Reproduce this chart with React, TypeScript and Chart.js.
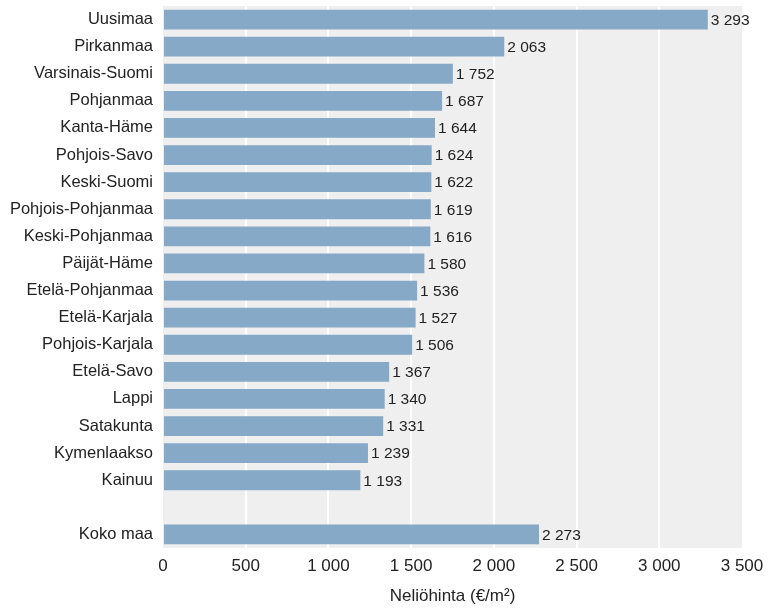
import React, { useEffect, useRef } from "react";
import { Chart, registerables } from "chart.js";

Chart.register(...registerables);

const regions: string[] = [
  "Uusimaa", "Pirkanmaa", "Varsinais-Suomi", "Pohjanmaa", "Kanta-Häme", "Pohjois-Savo",
  "Keski-Suomi", "Pohjois-Pohjanmaa", "Keski-Pohjanmaa", "Päijät-Häme", "Etelä-Pohjanmaa",
  "Etelä-Karjala", "Pohjois-Karjala", "Etelä-Savo", "Lappi", "Satakunta", "Kymenlaakso",
  "Kainuu", "", "Koko maa",
];
const prices: (number | null)[] = [
  3293, 2063, 1752, 1687, 1644, 1624, 1622, 1619, 1616, 1580, 1536, 1527, 1506, 1367,
  1340, 1331, 1239, 1193, null, 2273,
];
const xTicks: number[] = [0, 500, 1000, 1500, 2000, 2500, 3000, 3500];
const axisTitle = "Neliöhinta (€/m²)";

const FONT = "'Liberation Sans', Arial, sans-serif";
const fmt = (v: number) => String(Math.round(v)).replace(/\B(?=(\d{3})+(?!\d))/g, " ");

const bgPlugin = {
  id: "plotBg",
  beforeDraw(chart: any) {
    const { ctx, chartArea: a } = chart;
    ctx.save();
    ctx.fillStyle = "#efefef";
    ctx.fillRect(a.left, a.top, a.right - a.left, a.bottom - a.top);
    ctx.restore();
  },
};

const valuePlugin = {
  id: "values",
  afterDatasetsDraw(chart: any) {
    const { ctx } = chart;
    const meta = chart.getDatasetMeta(0);
    ctx.save();
    ctx.font = `15.5px ${FONT}`;
    ctx.fillStyle = "#222";
    ctx.textAlign = "left";
    ctx.textBaseline = "middle";
    meta.data.forEach((bar: any, i: number) => {
      const v = prices[i];
      if (v == null) return;
      ctx.fillText(fmt(v), bar.x + 3, bar.y + 1);
    });
    ctx.restore();
  },
};

export default function App() {
  const ref = useRef<HTMLCanvasElement>(null);
  useEffect(() => {
    document.body.style.margin = "0";
    const chart = new Chart(ref.current!, {
      type: "bar",
      data: {
        labels: regions,
        datasets: [
          {
            data: prices as any,
            backgroundColor: "#85a9c6",
            barPercentage: 0.73,
            categoryPercentage: 1,
          },
        ],
      },
      options: {
        indexAxis: "y",
        animation: false,
        responsive: false,
        layout: { padding: { top: 6, right: 27, left: 0, bottom: 0 } },
        plugins: { legend: { display: false }, tooltip: { enabled: false } },
        scales: {
          x: {
            min: 0,
            max: 3500,
            afterBuildTicks: (s: any) => {
              s.ticks = xTicks.map((v) => ({ value: v }));
            },
            afterFit: (s: any) => {
              s.height = 61;
              s.paddingLeft = 0;
              s.paddingRight = 0;
            },
            border: { display: false },
            grid: {
              color: (c: any) =>
                c.tick && (c.tick.value === 0 || c.tick.value === 3500) ? "rgba(0,0,0,0)" : "#ffffff",
              lineWidth: 2,
              drawTicks: false,
            },
            ticks: {
              color: "#222",
              font: { family: FONT, size: 17 },
              padding: 8,
              maxRotation: 0,
              callback: (v: any) => fmt(Number(v)),
            },
            title: {
              display: true,
              text: axisTitle,
              color: "#222",
              font: { family: FONT, size: 17 },
              padding: { top: 4, bottom: 2 },
            },
          },
          y: {
            afterFit: (s: any) => {
              s.width = 163;
              s.paddingTop = 0;
              s.paddingBottom = 0;
            },
            border: { display: false },
            grid: { display: false, drawTicks: false },
            ticks: {
              color: "#222",
              font: { family: FONT, size: 16.5 },
              padding: 10,
              autoSkip: false,
            },
          },
        },
      },
      plugins: [bgPlugin, valuePlugin],
    });
    return () => chart.destroy();
  }, []);
  return (
    <div style={{ width: 769, height: 609 }}>
      <canvas ref={ref} width={769} height={609} style={{ display: "block" }} />
    </div>
  );
}
